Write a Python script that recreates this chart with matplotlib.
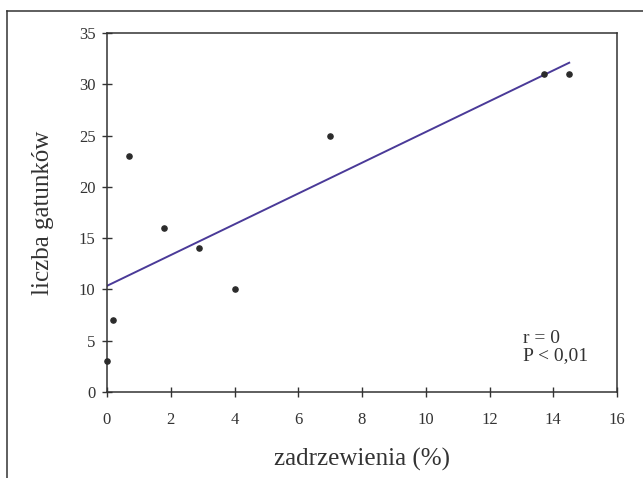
import matplotlib
matplotlib.use("Agg")
import matplotlib.pyplot as plt
from matplotlib.lines import Line2D

# data
cover_pct = [0, 0.2, 0.7, 1.8, 2.9, 4, 7, 13.7, 14.5]
species_count = [3, 7, 23, 16, 14, 10, 25, 31, 31]

# trend line end points as drawn
trend_x = [0, 14.5]
trend_y = [10.35, 32.1]

x_ticks = [0, 2, 4, 6, 8, 10, 12, 14, 16]
y_ticks = [0, 5, 10, 15, 20, 25, 30, 35]

plt.rcParams['font.family'] = ['Liberation Serif', 'DejaVu Serif']

ink = '#333333'

fig = plt.figure(figsize=(6.43, 4.78), dpi=100)
ax = fig.add_axes([0.1664, 0.1799, 0.7932, 0.7511])

ax.plot(trend_x, trend_y, color='#4a3a98', lw=1.4, zorder=2)
ax.scatter(cover_pct, species_count, s=14, color='#2b2b2b', zorder=3,
           clip_on=False)

ax.set_xlim(0, 16)
ax.set_ylim(0, 35)
ax.set_xticks(x_ticks)
ax.set_yticks(y_ticks)

for side in ax.spines.values():
    side.set_linewidth(1.1)
    side.set_color(ink)

ax.tick_params(axis='both', direction='inout', length=7.5, width=1.0,
               color=ink, labelcolor=ink, labelsize=12)
ax.tick_params(axis='x', pad=10.5)
ax.tick_params(axis='y', pad=4.5)

ax.set_xlabel('zadrzewienia (%)', fontsize=18, color=ink, labelpad=14.5)
ax.set_ylabel('liczba gatunków', fontsize=18, color=ink, labelpad=18)

ax.text(13.05, 2.7, 'r = 0\nP < 0,01', fontsize=14, color=ink,
        ha='left', va='bottom', linespacing=1.05)

# outer frame (top and left edges only visible)
fig.add_artist(Line2D([0.0109, 1.0], [0.977, 0.977], transform=fig.transFigure,
                      color=ink, lw=1.1))
fig.add_artist(Line2D([0.0109, 0.0109], [0.0, 0.977], transform=fig.transFigure,
                      color=ink, lw=1.1))

fig.savefig('out.png', dpi=100)
